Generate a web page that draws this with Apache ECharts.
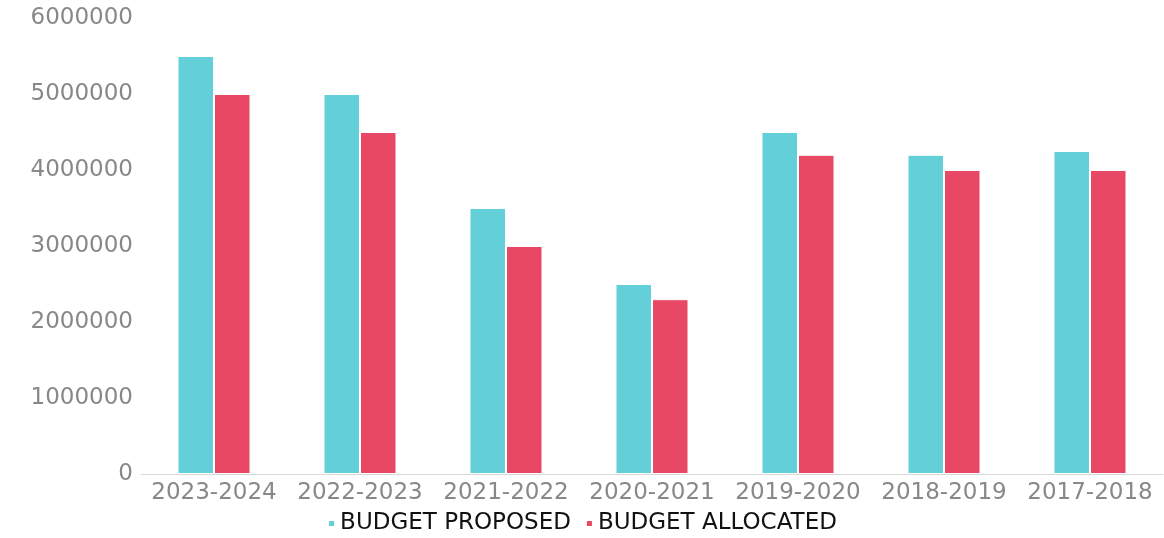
<!DOCTYPE html>
<html>
<head>
<meta charset="utf-8">
<script src="https://cdn.jsdelivr.net/npm/echarts@6/dist/echarts.min.js"></script>
<style>html,body{margin:0;padding:0;background:#fff;}#c{width:1164px;height:538px;}</style>
</head>
<body>
<div id="c"></div>
<script>
const categories = ['2023-2024','2022-2023','2021-2022','2020-2021','2019-2020','2018-2019','2017-2018'];
const proposed = [5500000, 5000000, 3500000, 2500000, 4500000, 4200000, 4250000];
const allocated = [5000000, 4500000, 3000000, 2300000, 4200000, 4000000, 4000000];
const seriesNames = ['BUDGET PROPOSED', 'BUDGET ALLOCATED'];

const chart = echarts.init(document.getElementById('c'));
chart.setOption({
  animation: false,
  color: ['#62CFD9', '#E84864'],
  textStyle: { fontFamily: 'DejaVu Sans' },
  grid: { left: 141, right: 1, top: 18, bottom: 64, containLabel: false },
  legend: {
    left: 'center', bottom: -2,
    icon: 'rect', itemWidth: 7, itemHeight: 7, itemGap: 14, itemTextGap: 6,
    textStyle: { color: '#111', fontSize: 23, fontFamily: 'DejaVu Sans' },
    data: seriesNames
  },
  xAxis: {
    type: 'category', data: categories,
    axisLine: { lineStyle: { color: '#d8d8d8' } },
    axisTick: { show: false },
    axisLabel: { color: '#888', fontSize: 23, margin: 8, interval: 0, fontFamily: 'DejaVu Sans' }
  },
  yAxis: {
    type: 'value', min: 0, max: 6000000, interval: 1000000,
    splitLine: { show: false },
    axisLine: { show: false }, axisTick: { show: false },
    axisLabel: { color: '#888', fontSize: 23, margin: 8, fontFamily: 'DejaVu Sans',
      formatter: function (v) { return String(v); } }
  },
  series: [
    { name: seriesNames[0], type: 'bar', data: proposed, barGap: '0%', barCategoryGap: '50%',
      itemStyle: { borderColor: '#fff', borderWidth: 1 } },
    { name: seriesNames[1], type: 'bar', data: allocated,
      itemStyle: { borderColor: '#fff', borderWidth: 1 } }
  ]
});
</script>
</body>
</html>
